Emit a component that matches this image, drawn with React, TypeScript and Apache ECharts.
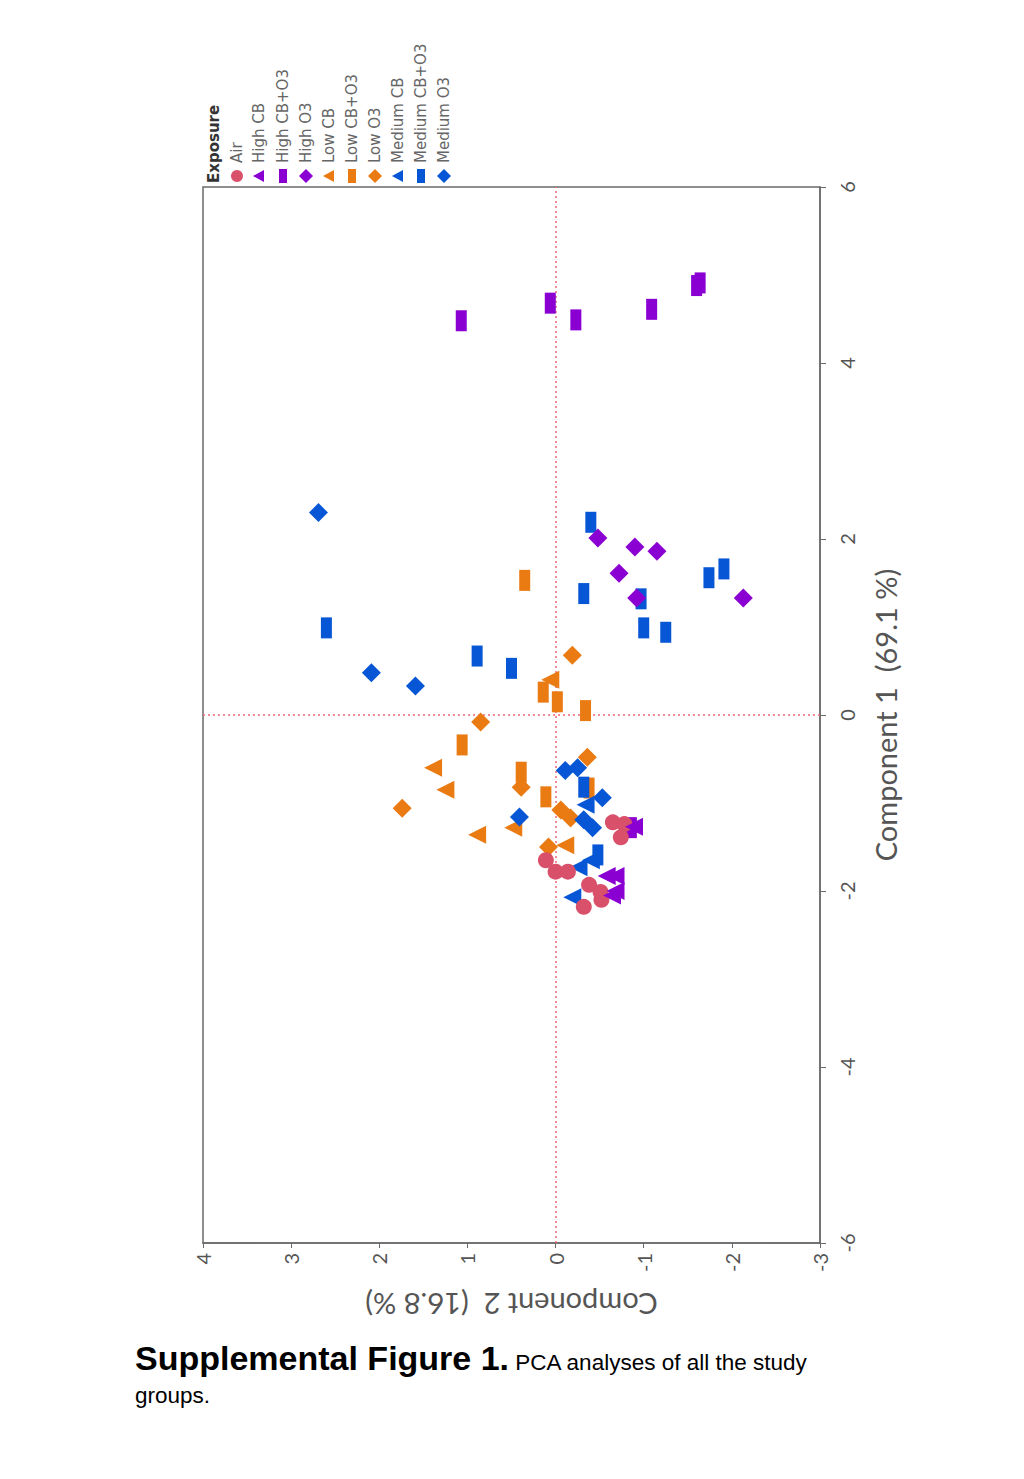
import React, { useEffect, useRef } from "react";
import * as echarts from "echarts";

// PCA scores as [Component 2, Component 1]
const air = [[0.11, -1.65], [0.0, -1.78], [-0.14, -1.78], [-0.32, -2.18], [-0.38, -1.93], [-0.51, -2.01], [-0.52, -2.1], [-0.65, -1.22], [-0.78, -1.24], [-0.74, -1.39]];
const highCB = [[-0.89, -1.27], [-0.58, -1.83], [-0.68, -1.83], [-0.68, -2.0], [-0.64, -2.05]];
const highCBO3 = [[1.07, 4.48], [0.06, 4.68], [-0.23, 4.49], [-1.09, 4.61], [-1.6, 4.88], [-1.64, 4.91], [-0.86, -1.28]];
const highO3 = [[-0.48, 2.01], [-0.9, 1.91], [-1.15, 1.86], [-0.72, 1.61], [-0.92, 1.33], [-2.13, 1.33]];
const lowCB = [[1.39, -0.6], [1.25, -0.85], [0.89, -1.36], [0.48, -1.28], [0.06, 0.4], [-0.11, -1.48]];
const lowCBO3 = [[0.35, 1.53], [0.14, 0.26], [-0.02, 0.15], [-0.34, 0.05], [1.06, -0.34], [0.39, -0.65], [0.11, -0.93], [-0.38, -0.83]];
const lowO3 = [[1.74, -1.06], [0.85, -0.08], [0.39, -0.82], [-0.19, 0.68], [-0.36, -0.48], [-0.06, -1.08], [-0.17, -1.17], [0.08, -1.5]];
const mediumCB = [[-0.34, -1.02], [-0.4, -1.65], [-0.26, -1.73], [-0.19, -2.07]];
const mediumCBO3 = [[2.6, 0.99], [0.89, 0.67], [0.5, 0.53], [-0.4, 2.19], [-0.32, 1.38], [-0.97, 1.32], [-1.0, 0.99], [-1.25, 0.94], [-1.74, 1.56], [-1.91, 1.66], [-0.32, -0.82], [-0.48, -1.59]];
const mediumO3 = [[2.69, 2.3], [2.09, 0.48], [1.59, 0.33], [0.41, -1.16], [-0.11, -0.63], [-0.25, -0.6], [-0.53, -0.94], [-0.32, -1.19], [-0.42, -1.28]];

const groupNames = ["Air", "High CB", "High CB+O3", "High O3", "Low CB", "Low CB+O3", "Low O3", "Medium CB", "Medium CB+O3", "Medium O3"];
const groupData = [air, highCB, highCBO3, highO3, lowCB, lowCBO3, lowO3, mediumCB, mediumCBO3, mediumO3];
const groupShapes = ["circle", "triangle", "rect", "diamond", "triangle", "rect", "diamond", "triangle", "rect", "diamond"];
const groupColors = ["#d9506a", "#8a00d2", "#8a00d2", "#8a00d2", "#ea7a12", "#ea7a12", "#ea7a12", "#0756d6", "#0756d6", "#0756d6"];
const drawOrder = [4, 5, 6, 7, 8, 9, 3, 2, 0, 1];

const c2Ticks = [-3, 4];
const c1Ticks = [-6, 6];

const legendTitle = "Exposure";
const axisName1 = "Component 1  (69.1 %)";
const axisName2 = "Component 2  (16.8 %)";

function symbolSize(shape: string): any {
  if (shape === "rect") return [11, 21];
  if (shape === "diamond") return 19;
  if (shape === "triangle") return 18;
  return 16;
}

export default function App() {
  const ref = useRef<HTMLDivElement>(null);
  useEffect(() => {
    if (!ref.current) return;
    const chart = echarts.init(ref.current, undefined, { renderer: "svg" });

    const series: any[] = drawOrder.map((gi, k) => ({
      type: "scatter",
      name: groupNames[gi],
      data: groupData[gi],
      symbol: groupShapes[gi],
      symbolSize: symbolSize(groupShapes[gi]),
      symbolRotate: groupShapes[gi] === "triangle" ? 90 : 0,
      itemStyle: { color: groupColors[gi], opacity: 1 },
      z: 3 + k,
      markLine:
        k === 0
          ? {
              silent: true,
              symbol: "none",
              label: { show: false },
              lineStyle: { color: "#ee6677", type: [2, 3], width: 1.5 },
              data: [{ xAxis: 0 }, { yAxis: 0 }],
              z: 1,
            }
          : undefined,
    }));

    const legendX = [237, 259, 283, 306, 329, 352, 375, 398, 421, 444];
    const graphics: any[] = [
      {
        type: "text",
        x: 214,
        y: 183,
        rotation: Math.PI / 2,
        style: { text: legendTitle, fontSize: 15, fontWeight: "bold", fill: "#333", fontFamily: "DejaVu Sans", textAlign: "left", textVerticalAlign: "middle" },
      },
    ];
    groupNames.forEach((name, i) => {
      const x = legendX[i];
      const y = 176;
      const color = groupColors[i];
      const shape = groupShapes[i];
      if (shape === "circle") graphics.push({ type: "circle", shape: { cx: x, cy: y, r: 6 }, style: { fill: color } });
      if (shape === "triangle") graphics.push({ type: "polygon", shape: { points: [[x + 5, y - 6], [x + 5, y + 6], [x - 6, y]] }, style: { fill: color } });
      if (shape === "rect") graphics.push({ type: "rect", shape: { x: x - 4, y: y - 7, width: 8, height: 14 }, style: { fill: color } });
      if (shape === "diamond") graphics.push({ type: "polygon", shape: { points: [[x, y - 7], [x + 7, y], [x, y + 7], [x - 7, y]] }, style: { fill: color } });
      graphics.push({
        type: "text",
        x: x,
        y: 163,
        rotation: Math.PI / 2,
        style: { text: name, fontSize: 15, fill: "#666", fontFamily: "DejaVu Sans", textAlign: "left", textVerticalAlign: "middle" },
      });
    });

    chart.setOption({
      animation: false,
      backgroundColor: "#ffffff",
      grid: { left: 203, top: 187, width: 617, height: 1056, show: true, borderColor: "#6a6a6a", borderWidth: 1.5, containLabel: false },
      xAxis: {
        type: "value",
        min: c2Ticks[0],
        max: c2Ticks[1],
        interval: 1,
        inverse: true,
        position: "bottom",
        name: axisName2,
        nameLocation: "middle",
        nameRotate: 180,
        nameGap: 47,
        nameTextStyle: { fontSize: 29, color: "#555", fontFamily: "Lato" },
        axisLine: { show: true, onZero: false, lineStyle: { color: "#6a6a6a", width: 1.5 } },
        axisTick: { show: true, inside: false, length: 5, lineStyle: { color: "#6a6a6a" } },
        axisLabel: { rotate: 90, fontSize: 20, color: "#555", fontFamily: "Lato", margin: 10 },
        splitLine: { show: false },
      },
      yAxis: {
        type: "value",
        min: c1Ticks[0],
        max: c1Ticks[1],
        interval: 2,
        position: "right",
        name: axisName1,
        nameLocation: "middle",
        nameRotate: 90,
        nameGap: 51,
        nameTextStyle: { fontSize: 29, color: "#555", fontFamily: "Lato" },
        axisLine: { show: true, onZero: false, lineStyle: { color: "#6a6a6a", width: 1.5 } },
        axisTick: { show: true, inside: false, length: 6, lineStyle: { color: "#6a6a6a" } },
        axisLabel: { rotate: 90, fontSize: 20, color: "#555", fontFamily: "Lato", margin: 17 },
        splitLine: { show: false },
      },
      graphic: graphics,
      series,
    });
    return () => chart.dispose();
  }, []);

  return (
    <div style={{ position: "absolute", left: 0, top: 0, width: 1024, height: 1479, background: "#fff" }}>
      <div ref={ref} style={{ position: "absolute", left: 0, top: 0, width: 1024, height: 1330 }} />
      <div
        style={{
          position: "absolute",
          left: 135,
          top: 1343,
          width: 760,
          fontFamily: "'Liberation Sans', Arial, sans-serif",
          color: "#000",
          lineHeight: "31px",
        }}
      >
        <span style={{ fontSize: 34, fontWeight: "bold" }}>Supplemental Figure 1.</span>
        <span style={{ fontSize: 22.5 }}> PCA analyses of all the study</span>
        <br />
        <span style={{ fontSize: 22.5 }}>groups.</span>
      </div>
    </div>
  );
}
